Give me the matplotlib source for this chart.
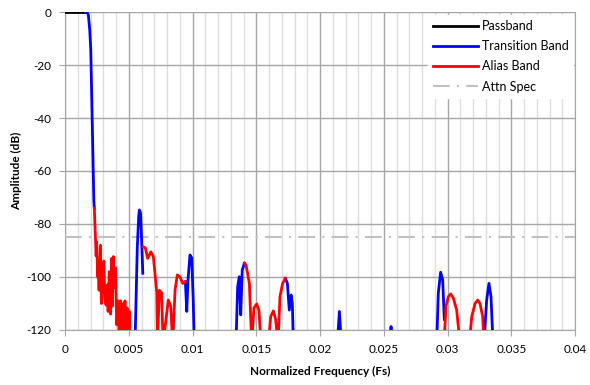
import numpy as np
import matplotlib.pyplot as plt
from matplotlib.ticker import MultipleLocator

plt.rcParams['font.family'] = ['Lato', 'DejaVu Sans']
plt.rcParams['axes.unicode_minus'] = False

nan = np.nan

# passband (black)
pass_freq = [0.0, 0.0016]
pass_db = [0.0, 0.0]

# transition band (blue), segments separated by nan
trans_freq = [0.0016, 0.00172, 0.00183, 0.00194, 0.00202, 0.0021, 0.00218, 0.00226, 0.0023, nan,
              0.00549, 0.00567, 0.00578, 0.00583, 0.00593, 0.00601, 0.0061, nan,
              0.00944, 0.00955, 0.00965, 0.0098, 0.00994, 0.01005, 0.01014, nan,
              0.01341, 0.01354, 0.01367, 0.01378, 0.0139, 0.01407, nan,
              0.01728, 0.01744, 0.01759, 0.01773, 0.01783, 0.01791, nan,
              0.02136, 0.02152, 0.02167, nan,
              0.02549, 0.02557, 0.02565, nan,
              0.02915, 0.02928, 0.02946, 0.02962, 0.02975, nan,
              0.03286, 0.03307, 0.03325, 0.03341, 0.03357]
trans_db = [0.0, 0.0, -1.1, -6.8, -14.3, -33, -52, -71, -74, nan,
            -125, -88.6, -77.2, -74.7, -76, -86, -98.6, nan,
            -101.8, -113, -101, -91.7, -92.8, -108, -125, nan,
            -125, -103.7, -99.9, -114.3, -97.4, -94.8, nan,
            -100.5, -102.4, -112.5, -106.8, -110, -125, nan,
            -125, -113, -125, nan,
            -125, -118.7, -125, nan,
            -125, -106, -98.2, -101, -116, nan,
            -125, -108.7, -102.4, -107.4, -125]

# alias band (red)
alias_freq = [0.0023, 0.00244, 0.00248, 0.00257, 0.0026, 0.00267, 0.00278, 0.00285, 0.00295, 0.00305,
              0.00312, 0.00322, 0.00332, 0.00338, 0.00347, 0.00358, 0.00365, 0.00372, 0.00379,
              0.00389, 0.00397, 0.00405, 0.0041, 0.00418, 0.00425, 0.00436, 0.00447, 0.00457,
              0.00465, 0.0047, 0.0048, 0.00488, 0.00496, 0.00505, 0.0051, nan,
              0.00612, 0.0063, 0.00648, 0.00673, 0.00693, 0.0072, 0.00725, 0.0074, 0.00758,
              0.00769, 0.00798, 0.0081, 0.00829, 0.00845, 0.00863, 0.00881, 0.00902, 0.00923,
              0.00944, nan,
              0.01407, 0.0142, 0.01446, 0.01464, 0.01482, 0.01503, 0.01521, 0.01537, nan,
              0.01595, 0.01613, 0.01634, 0.01652, 0.01671, 0.01686, 0.01707, 0.01728, nan,
              0.02973, 0.02988, 0.03007, 0.03025, 0.03046, 0.03072, 0.03098, nan,
              0.03171, 0.0319, 0.03216, 0.03237, 0.03255, 0.03276, 0.03286]
alias_db = [-74, -92, -86.7, -100, -96.6, -105, -88, -110, -100, -94,
            -108, -110.6, -103, -113, -98, -114, -93, -111, -92.3,
            -104, -96.6, -118, -115.5, -109, -125, -109, -121, -110,
            -125, -109, -123, -111.7, -125, -113, -125, nan,
            -88.6, -89, -93, -90.5, -92.3, -106, -125, -105, -106,
            -125, -113.7, -108.7, -111, -125, -105, -99.2, -100, -102.4,
            -101.8, nan,
            -94.8, -95.5, -102.4, -125, -111.7, -110.2, -112.5, -125, nan,
            -125, -115, -112.8, -116, -125, -107.4, -102.4, -100.5, nan,
            -125, -111, -107.4, -106.4, -108, -112.5, -125, nan,
            -125, -115, -110, -108.7, -110, -115, -125]

attn_spec = -85

fig = plt.figure(figsize=(5.9, 3.85), dpi=100)
ax = fig.add_axes([0.1102, 0.1429, 0.8644, 0.8259])

ax.plot(pass_freq, pass_db, color='black', lw=2, label='Passband', zorder=4)
ax.plot(trans_freq, trans_db, color='#0000ff', lw=2, label='Transition Band', zorder=4)
ax.plot(alias_freq, alias_db, color='#ff0000', lw=2, label='Alias Band', zorder=4)
ax.axhline(attn_spec, color='#c0c0c0', lw=1.5, dashes=(8, 3.5, 1, 3.5), label='Attn Spec', zorder=3)

ax.set_xlim(0, 0.04)
ax.set_ylim(-120, 0)
ax.xaxis.set_minor_locator(MultipleLocator(0.001))
ax.yaxis.set_major_locator(MultipleLocator(20))
ax.set_xticks([0, 0.005, 0.01, 0.015, 0.02, 0.025, 0.03, 0.035, 0.04])
ax.set_xticklabels(['0', '0.005', '0.01', '0.015', '0.02', '0.025', '0.03', '0.035', '0.04'])

ax.grid(which='major', color='#a6a6a6', lw=1, zorder=1)
ax.grid(which='minor', axis='x', color='#dedede', lw=1, zorder=0)
ax.set_axisbelow(True)
for s in ax.spines.values():
    s.set_color('#a6a6a6')
ax.spines['top'].set_visible(False)
ax.tick_params(which='major', length=4, color='#a6a6a6', labelsize=8.5, pad=6)
ax.tick_params(which='minor', length=0)

ax.set_xlabel('Normalized Frequency (Fs)', fontsize=8.5, fontweight='bold', labelpad=8)
ax.set_ylabel('Amplitude (dB)', fontsize=8.5, fontweight='bold', labelpad=3)

leg = ax.legend(loc='upper right', bbox_to_anchor=(0.997, 0.99), fontsize=9, frameon=True,
                fancybox=False, edgecolor='white', framealpha=1, handlelength=3.6,
                handletextpad=0.3, labelspacing=0.65, borderaxespad=0)
leg.set_zorder(10)

fig.savefig('out.png', dpi=100)
